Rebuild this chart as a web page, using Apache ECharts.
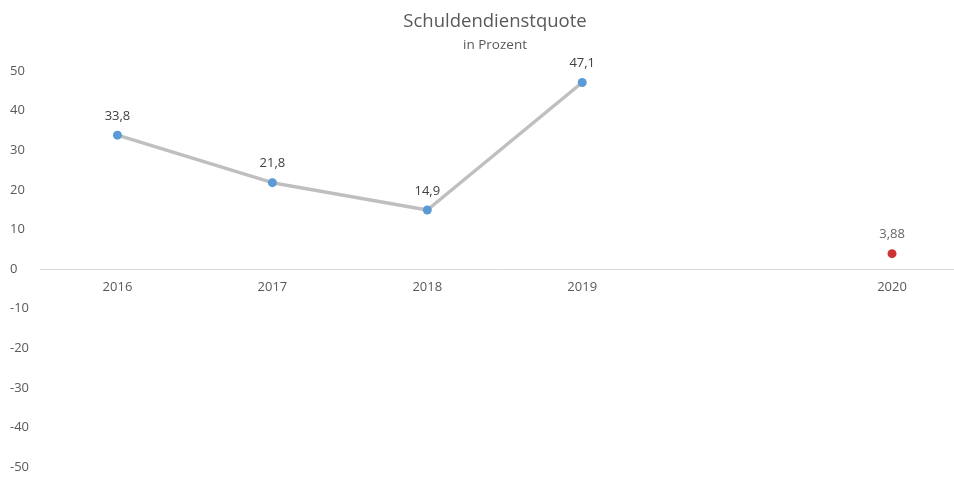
<!DOCTYPE html>
<html>
<head>
<meta charset="utf-8">
<script src="https://cdn.jsdelivr.net/npm/echarts@6/dist/echarts.min.js"></script>
<style>
  html, body { margin: 0; padding: 0; background: #fff; }
  #chart { width: 954px; height: 477px; }
</style>
</head>
<body>
<div id="chart"></div>
<script>
// Jahre (leere Kategorie zwischen 2019 und 2020, wie im Original)
var years = ['2016', '2017', '2018', '2019', '', '2020'];
var quoteIst = [33.8, 21.8, 14.9, 47.1, null, null];
var quotePlan = [null, null, null, null, null, 3.88];

var txt = '#595959';
var font = 'Open Sans';

function komma(p) {
    return String(p.value).replace('.', ',');
}

var myChart = echarts.init(document.getElementById('chart'));
var option = {
    backgroundColor: '#fff',
    title: {
        text: 'Schuldendienstquote',
        subtext: 'in Prozent',
        left: 490,
        top: 7,
        textAlign: 'center',
        itemGap: 7,
        textStyle: { fontFamily: font, fontSize: 18.5, fontWeight: 'normal', color: txt },
        subtextStyle: { fontFamily: font, fontSize: 13.5, color: txt }
    },
    grid: { left: 40, right: -15.5, top: 71, bottom: 10, containLabel: false, outerBoundsMode: 'none' },
    xAxis: {
        type: 'category',
        data: years,
        boundaryGap: true,
        // Achse auf Höhe der Null (467 - 198 = 269)
        offset: -198,
        axisLine: { onZero: false, lineStyle: { color: '#d9d9d9', width: 1 } },
        axisTick: { show: false },
        axisLabel: { fontFamily: font, fontSize: 13, color: txt, margin: 12, interval: 0 }
    },
    yAxis: {
        type: 'value',
        min: -50,
        max: 50,
        interval: 10,
        splitLine: { show: false },
        axisLine: { show: false },
        axisTick: { show: false },
        axisLabel: { fontFamily: font, fontSize: 13, color: txt, align: 'left', margin: 30 }
    },
    series: [
        {
            type: 'line',
            data: quoteIst,
            symbol: 'circle',
            symbolSize: 9,
            lineStyle: { color: '#bfbfbf', width: 3.5 },
            itemStyle: { color: '#5b9bd5' },
            label: {
                show: true, position: 'top', distance: 8,
                fontFamily: font, fontSize: 13, color: '#404040',
                formatter: komma
            }
        },
        {
            type: 'scatter',
            data: quotePlan,
            symbol: 'circle',
            symbolSize: 9,
            itemStyle: { color: '#c00000' },
            label: {
                show: true, position: 'top', distance: 8,
                fontFamily: font, fontSize: 13, color: '#404040',
                formatter: komma
            }
        }
    ]
};
myChart.setOption(option);
</script>
</body>
</html>
